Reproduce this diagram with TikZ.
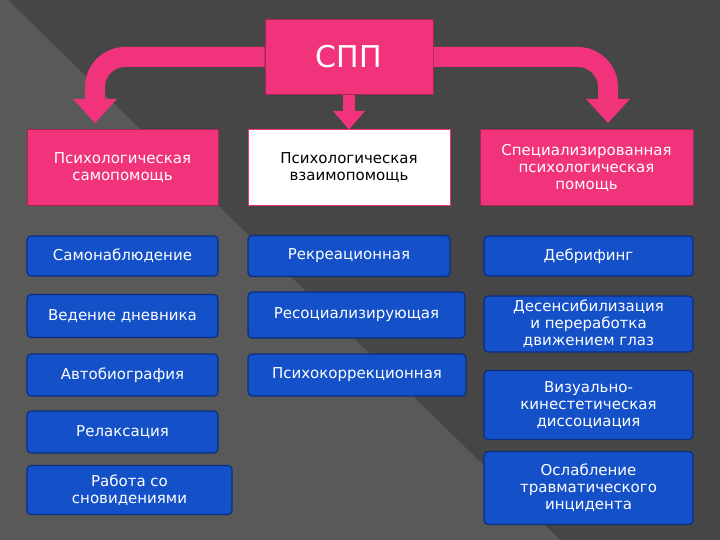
\documentclass[tikz,border=0pt]{standalone}
\usepackage{fontspec}
\setmainfont{DejaVu Sans}
\begin{document}
\begin{tikzpicture}[x=1pt,y=-1pt,
  pinkbox/.style={draw=pk!70!black,line width=1pt,fill=pk,text=white,minimum width=191pt,minimum height=76pt,align=center,font=\fontsize{15}{17}\selectfont,inner sep=1pt},
  bluebox/.style={draw=bd,line width=1.2pt,fill=bl,text=white,rounded corners=4pt,minimum height=42pt,align=center,font=\fontsize{15}{17}\selectfont,inner sep=1pt},
  parrow/.style={draw=pk,line width=20pt},
  phead/.style={fill=pk}]
\definecolor{pk}{HTML}{F0337A}
\definecolor{bl}{HTML}{1450C8}
\definecolor{bd}{HTML}{0A2E80}
\useasboundingbox (0,0) rectangle (720,540);
\fill[gray!55!black] (0,0) rectangle (720,540);
\fill[gray!70!black] (0,0) -- (8,0) -- (560,540) -- (0,540) -- cycle;
\node[pinkbox,minimum width=168pt,minimum height=75pt,font=\fontsize{30}{32}\selectfont] (spp) at (349,57) {СПП};
\node[pinkbox] (a) at (122.5,168) {Психологическая\\самопомощь};
\node[pinkbox,fill=white,text=black,draw=pk,minimum width=202pt] (b) at (349,168) {Психологическая\\взаимопомощь};
\node[pinkbox,minimum width=213pt] (c) at (586.5,168) {Специализированная\\психологическая\\помощь};
\node[bluebox,minimum width=191pt,minimum height=40pt] (a1) at (122.5,256) {Самонаблюдение};
\node[bluebox,minimum width=191pt,minimum height=43pt] (a2) at (122.5,316) {Ведение дневника};
\node[bluebox,minimum width=191pt,minimum height=42pt] (a3) at (122.5,375) {Автобиография};
\node[bluebox,minimum width=191pt,minimum height=42pt] (a4) at (122.5,432) {Релаксация};
\node[bluebox,minimum width=205pt,minimum height=49pt] (a5) at (129.5,490) {Работа со\\сновидениями};
\node[bluebox,minimum width=202pt,minimum height=41pt] (b1) at (349,256) {Рекреационная};
\node[bluebox,minimum width=217pt,minimum height=46pt] (b2) at (356.5,315) {Ресоциализирующая};
\node[bluebox,minimum width=218pt,minimum height=42pt] (b3) at (357,375) {Психокоррекционная};
\node[bluebox,minimum width=209pt,minimum height=40pt] (c1) at (588.5,256) {Дебрифинг};
\node[bluebox,minimum width=209pt,minimum height=56pt] (c2) at (588.5,324) {Десенсибилизация\\и переработка\\движением глаз};
\node[bluebox,minimum width=209pt,minimum height=69pt] (c3) at (588.5,405) {Визуально-\\кинестетическая\\диссоциация};
\node[bluebox,minimum width=209pt,minimum height=73pt] (c4) at (588.5,488) {Ослабление\\травматического\\инцидента};
% arrows
\draw[parrow] (spp.west |- 0,57) -- (125,57) arc[start angle=270,end angle=180,radius=30] -- (95,100);
\fill[phead] (73,99) -- (117,99) -- (95,123) -- cycle;
\draw[parrow] (spp.east |- 0,57) -- (578,57) arc[start angle=270,end angle=360,radius=30] -- (608,100);
\fill[phead] (586,99) -- (630,99) -- (608,123) -- cycle;
\draw[pk,line width=12pt] (spp.south) -- (349,112);
\fill[phead] (333,111) -- (365,111) -- (b.north) -- cycle;
\end{tikzpicture}
\end{document}
